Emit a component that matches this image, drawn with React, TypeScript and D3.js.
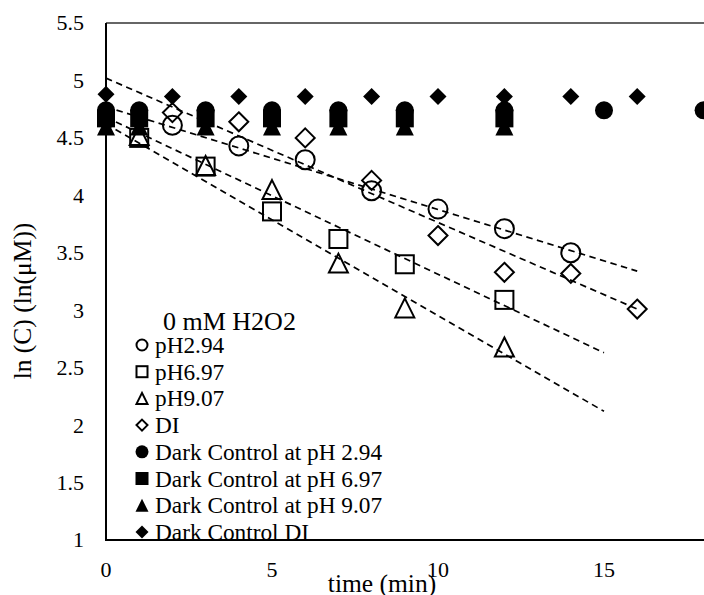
import React from "react";
import * as d3 from "d3";

const xTicks = [0, 5, 10, 15];
const yTicks = [1, 1.5, 2, 2.5, 3, 3.5, 4, 4.5, 5, 5.5];

const openCircle: [number, number][] = [[2, 4.61], [4, 4.43], [6, 4.31], [8, 4.04], [10, 3.88], [12, 3.71], [14, 3.50]];
const openSquare: [number, number][] = [[1, 4.50], [3, 4.25], [5, 3.86], [7, 3.62], [9, 3.40], [12, 3.09]];
const openTriangle: [number, number][] = [[1, 4.52], [3, 4.26], [5, 4.05], [7, 3.41], [9, 3.02], [12, 2.68]];
const openDiamond: [number, number][] = [[2, 4.72], [4, 4.64], [6, 4.50], [8, 4.13], [10, 3.65], [12, 3.33], [14, 3.32], [16, 3.01]];

const darkCircle: [number, number][] = [[0, 4.74], [1, 4.74], [3, 4.74], [5, 4.74], [7, 4.74], [9, 4.74], [12, 4.74], [15, 4.74], [18, 4.74]];
const darkSquare: [number, number][] = [[0, 4.67], [1, 4.67], [3, 4.67], [5, 4.67], [7, 4.67], [9, 4.67], [12, 4.67]];
const darkTriangle: [number, number][] = [[0, 4.60], [1, 4.60], [3, 4.60], [5, 4.60], [7, 4.60], [9, 4.60], [12, 4.60]];
const darkDiamond: [number, number][] = [[0, 4.88], [2, 4.86], [4, 4.86], [6, 4.86], [8, 4.86], [10, 4.86], [12, 4.86], [14, 4.86], [16, 4.86]];

const trendCircle: [number, number][] = [[0, 4.77], [16, 3.34]];
const trendDiamond: [number, number][] = [[0, 5.02], [16, 3.01]];
const trendSquare: [number, number][] = [[0, 4.68], [15, 2.63]];
const trendTriangle: [number, number][] = [[0, 4.62], [15, 2.12]];

const legendTitle = "0 mM H2O2";
const legendItems: { label: string; shape: string; filled: boolean }[] = [
  { label: "pH2.94", shape: "circle", filled: false },
  { label: "pH6.97", shape: "square", filled: false },
  { label: "pH9.07", shape: "triangle", filled: false },
  { label: "DI", shape: "diamond", filled: false },
  { label: "Dark Control at pH 2.94", shape: "circle", filled: true },
  { label: "Dark Control at pH 6.97", shape: "square", filled: true },
  { label: "Dark Control at pH 9.07", shape: "triangle", filled: true },
  { label: "Dark Control DI", shape: "diamond", filled: true },
];

const W = 704;
const H = 595;
const FONT = "'Liberation Serif', 'Times New Roman', serif";

function Marker({ shape, filled, cx, cy, s }: { shape: string; filled: boolean; cx: number; cy: number; s: number }) {
  const fill = filled ? "#000" : "none";
  const stroke = "#000";
  const sw = filled ? 0 : 2;
  const h = s / 2;
  if (shape === "circle") return <circle cx={cx} cy={cy} r={h} fill={fill} stroke={stroke} strokeWidth={sw} />;
  if (shape === "square") return <rect x={cx - h} y={cy - h} width={s} height={s} fill={fill} stroke={stroke} strokeWidth={sw} />;
  if (shape === "triangle")
    return <path d={`M${cx},${cy - h}L${cx + h},${cy + h}L${cx - h},${cy + h}Z`} fill={fill} stroke={stroke} strokeWidth={sw} />;
  return <path d={`M${cx},${cy - h}L${cx + h},${cy}L${cx},${cy + h}L${cx - h},${cy}Z`} fill={fill} stroke={stroke} strokeWidth={sw} />;
}

export default function App() {
  const x = d3.scaleLinear().domain([0, 20]).range([106, 770]);
  const y = d3.scaleLinear().domain([1, 5.5]).range([540, 23]);
  const line = d3.line<[number, number]>().x((d) => x(d[0])).y((d) => y(d[1]));

  const trends = [trendCircle, trendDiamond, trendSquare, trendTriangle];
  const openSeries: [string, [number, number][], number][] = [
    ["circle", openCircle, 19],
    ["square", openSquare, 18],
    ["triangle", openTriangle, 19],
    ["diamond", openDiamond, 19],
  ];
  const darkSeries: [string, [number, number][], number][] = [
    ["circle", darkCircle, 18],
    ["square", darkSquare, 18],
    ["triangle", darkTriangle, 18],
    ["diamond", darkDiamond, 17],
  ];

  const legX = 142;
  const legY0 = 353;
  const legStep = 26.7;

  return (
    <svg width={W} height={H} style={{ position: "absolute", left: 0, top: 0, overflow: "hidden", background: "#fff" }} fontFamily={FONT}>
      <rect x={0} y={0} width={W} height={H} fill="#fff" />
      {/* top border */}
      <line x1={x(0)} x2={W} y1={y(5.5)} y2={y(5.5)} stroke="#333" strokeWidth={1.3} />

      {/* y tick labels */}
      {yTicks.map((t) => (
        <text key={"y" + t} x={84} y={y(t)} dy="0.34em" textAnchor="end" fontSize={22} fill="#000">
          {d3.format("")(t)}
        </text>
      ))}
      {/* x tick labels */}
      {xTicks.map((t) => (
        <text key={"x" + t} x={x(t)} y={577} textAnchor="middle" fontSize={22} fill="#000">
          {t}
        </text>
      ))}

      {/* trend lines */}
      {trends.map((d, i) => (
        <path key={"tr" + i} d={line(d) || ""} fill="none" stroke="#000" strokeWidth={1.7} strokeDasharray="6.5,4.5" />
      ))}

      {/* open series */}
      {openSeries.map(([shape, data, s]) =>
        data.map((d, i) => <Marker key={shape + "o" + i} shape={shape} filled={false} cx={x(d[0])} cy={y(d[1])} s={s} />)
      )}
      {/* dark series */}
      {darkSeries.map(([shape, data, s]) =>
        data.map((d, i) => <Marker key={shape + "f" + i} shape={shape} filled={true} cx={x(d[0])} cy={y(d[1])} s={s} />)
      )}

      {/* legend */}
      <text x={163} y={330} fontSize={26} fill="#000">{legendTitle}</text>
      {legendItems.map((it, i) => (
        <g key={"lg" + i}>
          <Marker shape={it.shape} filled={it.filled} cx={legX} cy={legY0 + i * legStep - 8} s={it.filled ? 13 : 11} />
          <text x={155} y={legY0 + i * legStep} fontSize={23.3} fill="#000">{it.label}</text>
        </g>
      ))}

      {/* axes */}
      <line x1={x(0)} x2={x(0)} y1={y(5.5)} y2={y(1) + 1} stroke="#000" strokeWidth={2} />
      <line x1={x(0) - 1} x2={W} y1={y(1)} y2={y(1)} stroke="#000" strokeWidth={2} />

      {/* axis titles */}
      <text x={382} y={592} textAnchor="middle" fontSize={25.5} fill="#000">time (min)</text>
      <text transform={`translate(31,301) rotate(-90)`} textAnchor="middle" fontSize={25.5} fill="#000">ln (C) (ln(μM))</text>
    </svg>
  );
}
